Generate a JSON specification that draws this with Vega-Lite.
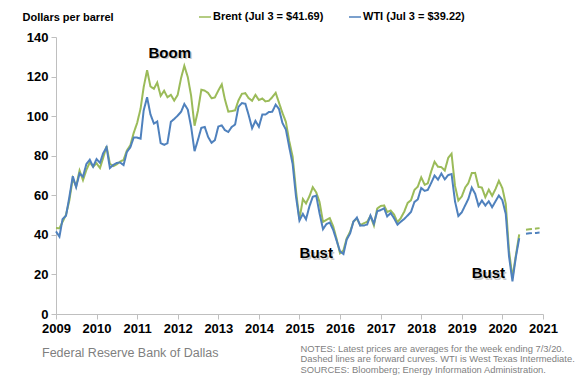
{
  "$schema": "https://vega.github.io/schema/vega-lite/v6.json",
  "width": 487,
  "height": 277,
  "autosize": {"type": "none"},
  "padding": {"left": 56, "top": 37, "right": 41, "bottom": 73},
  "background": "white",
  "config": {"view": {"stroke": null}, "font": "Liberation Sans"},
  "title": {
    "text": "Federal Reserve Bank of Dallas",
    "orient": "bottom",
    "anchor": "start",
    "frame": "group",
    "font": "Liberation Sans",
    "fontSize": 12.5,
    "fontWeight": "normal",
    "color": "#7f7f7f",
    "dx": -14,
    "dy": -30
  },
  "datasets": {
    "prices": [
      {"date": "2009-01-01", "series": "Brent", "kind": "actual", "price": 43.44},
      {"date": "2009-02-01", "series": "Brent", "kind": "actual", "price": 43.32},
      {"date": "2009-03-01", "series": "Brent", "kind": "actual", "price": 46.54},
      {"date": "2009-04-01", "series": "Brent", "kind": "actual", "price": 50.18},
      {"date": "2009-05-01", "series": "Brent", "kind": "actual", "price": 57.30},
      {"date": "2009-06-01", "series": "Brent", "kind": "actual", "price": 68.61},
      {"date": "2009-07-01", "series": "Brent", "kind": "actual", "price": 64.44},
      {"date": "2009-08-01", "series": "Brent", "kind": "actual", "price": 72.51},
      {"date": "2009-09-01", "series": "Brent", "kind": "actual", "price": 67.65},
      {"date": "2009-10-01", "series": "Brent", "kind": "actual", "price": 72.77},
      {"date": "2009-11-01", "series": "Brent", "kind": "actual", "price": 76.66},
      {"date": "2009-12-01", "series": "Brent", "kind": "actual", "price": 74.46},
      {"date": "2010-01-01", "series": "Brent", "kind": "actual", "price": 76.17},
      {"date": "2010-02-01", "series": "Brent", "kind": "actual", "price": 73.75},
      {"date": "2010-03-01", "series": "Brent", "kind": "actual", "price": 78.83},
      {"date": "2010-04-01", "series": "Brent", "kind": "actual", "price": 84.82},
      {"date": "2010-05-01", "series": "Brent", "kind": "actual", "price": 75.95},
      {"date": "2010-06-01", "series": "Brent", "kind": "actual", "price": 74.76},
      {"date": "2010-07-01", "series": "Brent", "kind": "actual", "price": 75.58},
      {"date": "2010-08-01", "series": "Brent", "kind": "actual", "price": 77.04},
      {"date": "2010-09-01", "series": "Brent", "kind": "actual", "price": 77.84},
      {"date": "2010-10-01", "series": "Brent", "kind": "actual", "price": 82.67},
      {"date": "2010-11-01", "series": "Brent", "kind": "actual", "price": 85.28},
      {"date": "2010-12-01", "series": "Brent", "kind": "actual", "price": 91.45},
      {"date": "2011-01-01", "series": "Brent", "kind": "actual", "price": 96.52},
      {"date": "2011-02-01", "series": "Brent", "kind": "actual", "price": 103.72},
      {"date": "2011-03-01", "series": "Brent", "kind": "actual", "price": 114.64},
      {"date": "2011-04-01", "series": "Brent", "kind": "actual", "price": 123.26},
      {"date": "2011-05-01", "series": "Brent", "kind": "actual", "price": 114.99},
      {"date": "2011-06-01", "series": "Brent", "kind": "actual", "price": 113.83},
      {"date": "2011-07-01", "series": "Brent", "kind": "actual", "price": 116.97},
      {"date": "2011-08-01", "series": "Brent", "kind": "actual", "price": 110.22},
      {"date": "2011-09-01", "series": "Brent", "kind": "actual", "price": 112.83},
      {"date": "2011-10-01", "series": "Brent", "kind": "actual", "price": 109.55},
      {"date": "2011-11-01", "series": "Brent", "kind": "actual", "price": 110.77},
      {"date": "2011-12-01", "series": "Brent", "kind": "actual", "price": 107.87},
      {"date": "2012-01-01", "series": "Brent", "kind": "actual", "price": 110.69},
      {"date": "2012-02-01", "series": "Brent", "kind": "actual", "price": 119.33},
      {"date": "2012-03-01", "series": "Brent", "kind": "actual", "price": 125.45},
      {"date": "2012-04-01", "series": "Brent", "kind": "actual", "price": 119.75},
      {"date": "2012-05-01", "series": "Brent", "kind": "actual", "price": 110.34},
      {"date": "2012-06-01", "series": "Brent", "kind": "actual", "price": 95.16},
      {"date": "2012-07-01", "series": "Brent", "kind": "actual", "price": 102.62},
      {"date": "2012-08-01", "series": "Brent", "kind": "actual", "price": 113.36},
      {"date": "2012-09-01", "series": "Brent", "kind": "actual", "price": 112.86},
      {"date": "2012-10-01", "series": "Brent", "kind": "actual", "price": 111.71},
      {"date": "2012-11-01", "series": "Brent", "kind": "actual", "price": 109.06},
      {"date": "2012-12-01", "series": "Brent", "kind": "actual", "price": 109.49},
      {"date": "2013-01-01", "series": "Brent", "kind": "actual", "price": 112.96},
      {"date": "2013-02-01", "series": "Brent", "kind": "actual", "price": 116.05},
      {"date": "2013-03-01", "series": "Brent", "kind": "actual", "price": 108.47},
      {"date": "2013-04-01", "series": "Brent", "kind": "actual", "price": 102.25},
      {"date": "2013-05-01", "series": "Brent", "kind": "actual", "price": 102.56},
      {"date": "2013-06-01", "series": "Brent", "kind": "actual", "price": 102.92},
      {"date": "2013-07-01", "series": "Brent", "kind": "actual", "price": 107.93},
      {"date": "2013-08-01", "series": "Brent", "kind": "actual", "price": 111.28},
      {"date": "2013-09-01", "series": "Brent", "kind": "actual", "price": 111.60},
      {"date": "2013-10-01", "series": "Brent", "kind": "actual", "price": 109.08},
      {"date": "2013-11-01", "series": "Brent", "kind": "actual", "price": 107.79},
      {"date": "2013-12-01", "series": "Brent", "kind": "actual", "price": 110.76},
      {"date": "2014-01-01", "series": "Brent", "kind": "actual", "price": 108.12},
      {"date": "2014-02-01", "series": "Brent", "kind": "actual", "price": 108.90},
      {"date": "2014-03-01", "series": "Brent", "kind": "actual", "price": 107.48},
      {"date": "2014-04-01", "series": "Brent", "kind": "actual", "price": 107.76},
      {"date": "2014-05-01", "series": "Brent", "kind": "actual", "price": 109.54},
      {"date": "2014-06-01", "series": "Brent", "kind": "actual", "price": 111.80},
      {"date": "2014-07-01", "series": "Brent", "kind": "actual", "price": 106.77},
      {"date": "2014-08-01", "series": "Brent", "kind": "actual", "price": 101.61},
      {"date": "2014-09-01", "series": "Brent", "kind": "actual", "price": 97.09},
      {"date": "2014-10-01", "series": "Brent", "kind": "actual", "price": 87.43},
      {"date": "2014-11-01", "series": "Brent", "kind": "actual", "price": 79.44},
      {"date": "2014-12-01", "series": "Brent", "kind": "actual", "price": 62.34},
      {"date": "2015-01-01", "series": "Brent", "kind": "actual", "price": 47.76},
      {"date": "2015-02-01", "series": "Brent", "kind": "actual", "price": 58.10},
      {"date": "2015-03-01", "series": "Brent", "kind": "actual", "price": 55.89},
      {"date": "2015-04-01", "series": "Brent", "kind": "actual", "price": 59.52},
      {"date": "2015-05-01", "series": "Brent", "kind": "actual", "price": 64.08},
      {"date": "2015-06-01", "series": "Brent", "kind": "actual", "price": 61.48},
      {"date": "2015-07-01", "series": "Brent", "kind": "actual", "price": 56.56},
      {"date": "2015-08-01", "series": "Brent", "kind": "actual", "price": 46.52},
      {"date": "2015-09-01", "series": "Brent", "kind": "actual", "price": 47.62},
      {"date": "2015-10-01", "series": "Brent", "kind": "actual", "price": 48.43},
      {"date": "2015-11-01", "series": "Brent", "kind": "actual", "price": 44.27},
      {"date": "2015-12-01", "series": "Brent", "kind": "actual", "price": 38.01},
      {"date": "2016-01-01", "series": "Brent", "kind": "actual", "price": 30.70},
      {"date": "2016-02-01", "series": "Brent", "kind": "actual", "price": 32.18},
      {"date": "2016-03-01", "series": "Brent", "kind": "actual", "price": 38.21},
      {"date": "2016-04-01", "series": "Brent", "kind": "actual", "price": 41.58},
      {"date": "2016-05-01", "series": "Brent", "kind": "actual", "price": 46.74},
      {"date": "2016-06-01", "series": "Brent", "kind": "actual", "price": 48.25},
      {"date": "2016-07-01", "series": "Brent", "kind": "actual", "price": 44.95},
      {"date": "2016-08-01", "series": "Brent", "kind": "actual", "price": 45.84},
      {"date": "2016-09-01", "series": "Brent", "kind": "actual", "price": 46.57},
      {"date": "2016-10-01", "series": "Brent", "kind": "actual", "price": 49.52},
      {"date": "2016-11-01", "series": "Brent", "kind": "actual", "price": 44.73},
      {"date": "2016-12-01", "series": "Brent", "kind": "actual", "price": 53.31},
      {"date": "2017-01-01", "series": "Brent", "kind": "actual", "price": 54.58},
      {"date": "2017-02-01", "series": "Brent", "kind": "actual", "price": 54.87},
      {"date": "2017-03-01", "series": "Brent", "kind": "actual", "price": 51.59},
      {"date": "2017-04-01", "series": "Brent", "kind": "actual", "price": 52.31},
      {"date": "2017-05-01", "series": "Brent", "kind": "actual", "price": 50.33},
      {"date": "2017-06-01", "series": "Brent", "kind": "actual", "price": 46.37},
      {"date": "2017-07-01", "series": "Brent", "kind": "actual", "price": 48.48},
      {"date": "2017-08-01", "series": "Brent", "kind": "actual", "price": 51.70},
      {"date": "2017-09-01", "series": "Brent", "kind": "actual", "price": 56.15},
      {"date": "2017-10-01", "series": "Brent", "kind": "actual", "price": 57.51},
      {"date": "2017-11-01", "series": "Brent", "kind": "actual", "price": 62.71},
      {"date": "2017-12-01", "series": "Brent", "kind": "actual", "price": 64.37},
      {"date": "2018-01-01", "series": "Brent", "kind": "actual", "price": 69.08},
      {"date": "2018-02-01", "series": "Brent", "kind": "actual", "price": 65.32},
      {"date": "2018-03-01", "series": "Brent", "kind": "actual", "price": 66.02},
      {"date": "2018-04-01", "series": "Brent", "kind": "actual", "price": 72.11},
      {"date": "2018-05-01", "series": "Brent", "kind": "actual", "price": 76.98},
      {"date": "2018-06-01", "series": "Brent", "kind": "actual", "price": 74.41},
      {"date": "2018-07-01", "series": "Brent", "kind": "actual", "price": 74.25},
      {"date": "2018-08-01", "series": "Brent", "kind": "actual", "price": 72.53},
      {"date": "2018-09-01", "series": "Brent", "kind": "actual", "price": 78.89},
      {"date": "2018-10-01", "series": "Brent", "kind": "actual", "price": 81.03},
      {"date": "2018-11-01", "series": "Brent", "kind": "actual", "price": 64.75},
      {"date": "2018-12-01", "series": "Brent", "kind": "actual", "price": 57.36},
      {"date": "2019-01-01", "series": "Brent", "kind": "actual", "price": 59.41},
      {"date": "2019-02-01", "series": "Brent", "kind": "actual", "price": 63.96},
      {"date": "2019-03-01", "series": "Brent", "kind": "actual", "price": 66.14},
      {"date": "2019-04-01", "series": "Brent", "kind": "actual", "price": 71.23},
      {"date": "2019-05-01", "series": "Brent", "kind": "actual", "price": 71.32},
      {"date": "2019-06-01", "series": "Brent", "kind": "actual", "price": 64.22},
      {"date": "2019-07-01", "series": "Brent", "kind": "actual", "price": 63.92},
      {"date": "2019-08-01", "series": "Brent", "kind": "actual", "price": 59.04},
      {"date": "2019-09-01", "series": "Brent", "kind": "actual", "price": 62.83},
      {"date": "2019-10-01", "series": "Brent", "kind": "actual", "price": 59.71},
      {"date": "2019-11-01", "series": "Brent", "kind": "actual", "price": 63.21},
      {"date": "2019-12-01", "series": "Brent", "kind": "actual", "price": 67.31},
      {"date": "2020-01-01", "series": "Brent", "kind": "actual", "price": 63.65},
      {"date": "2020-02-01", "series": "Brent", "kind": "actual", "price": 55.66},
      {"date": "2020-03-01", "series": "Brent", "kind": "actual", "price": 32.01},
      {"date": "2020-04-01", "series": "Brent", "kind": "actual", "price": 18.38},
      {"date": "2020-05-01", "series": "Brent", "kind": "actual", "price": 29.38},
      {"date": "2020-06-01", "series": "Brent", "kind": "actual", "price": 40.27},
      {"date": "2009-01-01", "series": "WTI", "kind": "actual", "price": 41.74},
      {"date": "2009-02-01", "series": "WTI", "kind": "actual", "price": 39.09},
      {"date": "2009-03-01", "series": "WTI", "kind": "actual", "price": 47.94},
      {"date": "2009-04-01", "series": "WTI", "kind": "actual", "price": 49.65},
      {"date": "2009-05-01", "series": "WTI", "kind": "actual", "price": 59.03},
      {"date": "2009-06-01", "series": "WTI", "kind": "actual", "price": 69.64},
      {"date": "2009-07-01", "series": "WTI", "kind": "actual", "price": 64.15},
      {"date": "2009-08-01", "series": "WTI", "kind": "actual", "price": 71.05},
      {"date": "2009-09-01", "series": "WTI", "kind": "actual", "price": 69.41},
      {"date": "2009-10-01", "series": "WTI", "kind": "actual", "price": 75.72},
      {"date": "2009-11-01", "series": "WTI", "kind": "actual", "price": 77.99},
      {"date": "2009-12-01", "series": "WTI", "kind": "actual", "price": 74.47},
      {"date": "2010-01-01", "series": "WTI", "kind": "actual", "price": 78.33},
      {"date": "2010-02-01", "series": "WTI", "kind": "actual", "price": 76.39},
      {"date": "2010-03-01", "series": "WTI", "kind": "actual", "price": 81.20},
      {"date": "2010-04-01", "series": "WTI", "kind": "actual", "price": 84.29},
      {"date": "2010-05-01", "series": "WTI", "kind": "actual", "price": 73.74},
      {"date": "2010-06-01", "series": "WTI", "kind": "actual", "price": 75.34},
      {"date": "2010-07-01", "series": "WTI", "kind": "actual", "price": 76.32},
      {"date": "2010-08-01", "series": "WTI", "kind": "actual", "price": 76.60},
      {"date": "2010-09-01", "series": "WTI", "kind": "actual", "price": 75.24},
      {"date": "2010-10-01", "series": "WTI", "kind": "actual", "price": 81.89},
      {"date": "2010-11-01", "series": "WTI", "kind": "actual", "price": 84.25},
      {"date": "2010-12-01", "series": "WTI", "kind": "actual", "price": 89.15},
      {"date": "2011-01-01", "series": "WTI", "kind": "actual", "price": 89.17},
      {"date": "2011-02-01", "series": "WTI", "kind": "actual", "price": 88.58},
      {"date": "2011-03-01", "series": "WTI", "kind": "actual", "price": 102.86},
      {"date": "2011-04-01", "series": "WTI", "kind": "actual", "price": 109.53},
      {"date": "2011-05-01", "series": "WTI", "kind": "actual", "price": 100.90},
      {"date": "2011-06-01", "series": "WTI", "kind": "actual", "price": 96.26},
      {"date": "2011-07-01", "series": "WTI", "kind": "actual", "price": 97.30},
      {"date": "2011-08-01", "series": "WTI", "kind": "actual", "price": 86.33},
      {"date": "2011-09-01", "series": "WTI", "kind": "actual", "price": 85.52},
      {"date": "2011-10-01", "series": "WTI", "kind": "actual", "price": 86.32},
      {"date": "2011-11-01", "series": "WTI", "kind": "actual", "price": 97.16},
      {"date": "2011-12-01", "series": "WTI", "kind": "actual", "price": 98.56},
      {"date": "2012-01-01", "series": "WTI", "kind": "actual", "price": 100.27},
      {"date": "2012-02-01", "series": "WTI", "kind": "actual", "price": 102.20},
      {"date": "2012-03-01", "series": "WTI", "kind": "actual", "price": 106.16},
      {"date": "2012-04-01", "series": "WTI", "kind": "actual", "price": 103.32},
      {"date": "2012-05-01", "series": "WTI", "kind": "actual", "price": 94.66},
      {"date": "2012-06-01", "series": "WTI", "kind": "actual", "price": 82.30},
      {"date": "2012-07-01", "series": "WTI", "kind": "actual", "price": 87.90},
      {"date": "2012-08-01", "series": "WTI", "kind": "actual", "price": 94.13},
      {"date": "2012-09-01", "series": "WTI", "kind": "actual", "price": 94.51},
      {"date": "2012-10-01", "series": "WTI", "kind": "actual", "price": 89.49},
      {"date": "2012-11-01", "series": "WTI", "kind": "actual", "price": 86.53},
      {"date": "2012-12-01", "series": "WTI", "kind": "actual", "price": 87.86},
      {"date": "2013-01-01", "series": "WTI", "kind": "actual", "price": 94.76},
      {"date": "2013-02-01", "series": "WTI", "kind": "actual", "price": 95.31},
      {"date": "2013-03-01", "series": "WTI", "kind": "actual", "price": 92.94},
      {"date": "2013-04-01", "series": "WTI", "kind": "actual", "price": 92.02},
      {"date": "2013-05-01", "series": "WTI", "kind": "actual", "price": 94.51},
      {"date": "2013-06-01", "series": "WTI", "kind": "actual", "price": 95.77},
      {"date": "2013-07-01", "series": "WTI", "kind": "actual", "price": 104.67},
      {"date": "2013-08-01", "series": "WTI", "kind": "actual", "price": 106.57},
      {"date": "2013-09-01", "series": "WTI", "kind": "actual", "price": 106.29},
      {"date": "2013-10-01", "series": "WTI", "kind": "actual", "price": 100.54},
      {"date": "2013-11-01", "series": "WTI", "kind": "actual", "price": 93.86},
      {"date": "2013-12-01", "series": "WTI", "kind": "actual", "price": 97.63},
      {"date": "2014-01-01", "series": "WTI", "kind": "actual", "price": 94.62},
      {"date": "2014-02-01", "series": "WTI", "kind": "actual", "price": 100.82},
      {"date": "2014-03-01", "series": "WTI", "kind": "actual", "price": 100.80},
      {"date": "2014-04-01", "series": "WTI", "kind": "actual", "price": 102.07},
      {"date": "2014-05-01", "series": "WTI", "kind": "actual", "price": 102.18},
      {"date": "2014-06-01", "series": "WTI", "kind": "actual", "price": 105.79},
      {"date": "2014-07-01", "series": "WTI", "kind": "actual", "price": 103.59},
      {"date": "2014-08-01", "series": "WTI", "kind": "actual", "price": 96.54},
      {"date": "2014-09-01", "series": "WTI", "kind": "actual", "price": 93.21},
      {"date": "2014-10-01", "series": "WTI", "kind": "actual", "price": 84.40},
      {"date": "2014-11-01", "series": "WTI", "kind": "actual", "price": 75.79},
      {"date": "2014-12-01", "series": "WTI", "kind": "actual", "price": 59.29},
      {"date": "2015-01-01", "series": "WTI", "kind": "actual", "price": 47.22},
      {"date": "2015-02-01", "series": "WTI", "kind": "actual", "price": 50.58},
      {"date": "2015-03-01", "series": "WTI", "kind": "actual", "price": 47.82},
      {"date": "2015-04-01", "series": "WTI", "kind": "actual", "price": 54.45},
      {"date": "2015-05-01", "series": "WTI", "kind": "actual", "price": 59.27},
      {"date": "2015-06-01", "series": "WTI", "kind": "actual", "price": 59.82},
      {"date": "2015-07-01", "series": "WTI", "kind": "actual", "price": 50.90},
      {"date": "2015-08-01", "series": "WTI", "kind": "actual", "price": 42.87},
      {"date": "2015-09-01", "series": "WTI", "kind": "actual", "price": 45.48},
      {"date": "2015-10-01", "series": "WTI", "kind": "actual", "price": 46.22},
      {"date": "2015-11-01", "series": "WTI", "kind": "actual", "price": 42.44},
      {"date": "2015-12-01", "series": "WTI", "kind": "actual", "price": 37.19},
      {"date": "2016-01-01", "series": "WTI", "kind": "actual", "price": 31.68},
      {"date": "2016-02-01", "series": "WTI", "kind": "actual", "price": 30.32},
      {"date": "2016-03-01", "series": "WTI", "kind": "actual", "price": 37.55},
      {"date": "2016-04-01", "series": "WTI", "kind": "actual", "price": 40.75},
      {"date": "2016-05-01", "series": "WTI", "kind": "actual", "price": 46.71},
      {"date": "2016-06-01", "series": "WTI", "kind": "actual", "price": 48.76},
      {"date": "2016-07-01", "series": "WTI", "kind": "actual", "price": 44.65},
      {"date": "2016-08-01", "series": "WTI", "kind": "actual", "price": 44.72},
      {"date": "2016-09-01", "series": "WTI", "kind": "actual", "price": 45.18},
      {"date": "2016-10-01", "series": "WTI", "kind": "actual", "price": 49.78},
      {"date": "2016-11-01", "series": "WTI", "kind": "actual", "price": 45.66},
      {"date": "2016-12-01", "series": "WTI", "kind": "actual", "price": 51.97},
      {"date": "2017-01-01", "series": "WTI", "kind": "actual", "price": 52.50},
      {"date": "2017-02-01", "series": "WTI", "kind": "actual", "price": 53.47},
      {"date": "2017-03-01", "series": "WTI", "kind": "actual", "price": 49.33},
      {"date": "2017-04-01", "series": "WTI", "kind": "actual", "price": 51.06},
      {"date": "2017-05-01", "series": "WTI", "kind": "actual", "price": 48.48},
      {"date": "2017-06-01", "series": "WTI", "kind": "actual", "price": 45.18},
      {"date": "2017-07-01", "series": "WTI", "kind": "actual", "price": 46.63},
      {"date": "2017-08-01", "series": "WTI", "kind": "actual", "price": 48.04},
      {"date": "2017-09-01", "series": "WTI", "kind": "actual", "price": 49.82},
      {"date": "2017-10-01", "series": "WTI", "kind": "actual", "price": 51.58},
      {"date": "2017-11-01", "series": "WTI", "kind": "actual", "price": 56.64},
      {"date": "2017-12-01", "series": "WTI", "kind": "actual", "price": 57.88},
      {"date": "2018-01-01", "series": "WTI", "kind": "actual", "price": 63.70},
      {"date": "2018-02-01", "series": "WTI", "kind": "actual", "price": 62.23},
      {"date": "2018-03-01", "series": "WTI", "kind": "actual", "price": 62.73},
      {"date": "2018-04-01", "series": "WTI", "kind": "actual", "price": 66.25},
      {"date": "2018-05-01", "series": "WTI", "kind": "actual", "price": 69.98},
      {"date": "2018-06-01", "series": "WTI", "kind": "actual", "price": 67.87},
      {"date": "2018-07-01", "series": "WTI", "kind": "actual", "price": 70.98},
      {"date": "2018-08-01", "series": "WTI", "kind": "actual", "price": 68.06},
      {"date": "2018-09-01", "series": "WTI", "kind": "actual", "price": 70.23},
      {"date": "2018-10-01", "series": "WTI", "kind": "actual", "price": 70.75},
      {"date": "2018-11-01", "series": "WTI", "kind": "actual", "price": 56.96},
      {"date": "2018-12-01", "series": "WTI", "kind": "actual", "price": 49.52},
      {"date": "2019-01-01", "series": "WTI", "kind": "actual", "price": 51.38},
      {"date": "2019-02-01", "series": "WTI", "kind": "actual", "price": 54.95},
      {"date": "2019-03-01", "series": "WTI", "kind": "actual", "price": 58.15},
      {"date": "2019-04-01", "series": "WTI", "kind": "actual", "price": 63.86},
      {"date": "2019-05-01", "series": "WTI", "kind": "actual", "price": 60.83},
      {"date": "2019-06-01", "series": "WTI", "kind": "actual", "price": 54.66},
      {"date": "2019-07-01", "series": "WTI", "kind": "actual", "price": 57.35},
      {"date": "2019-08-01", "series": "WTI", "kind": "actual", "price": 54.81},
      {"date": "2019-09-01", "series": "WTI", "kind": "actual", "price": 56.95},
      {"date": "2019-10-01", "series": "WTI", "kind": "actual", "price": 53.96},
      {"date": "2019-11-01", "series": "WTI", "kind": "actual", "price": 57.03},
      {"date": "2019-12-01", "series": "WTI", "kind": "actual", "price": 59.88},
      {"date": "2020-01-01", "series": "WTI", "kind": "actual", "price": 57.52},
      {"date": "2020-02-01", "series": "WTI", "kind": "actual", "price": 50.54},
      {"date": "2020-03-01", "series": "WTI", "kind": "actual", "price": 29.21},
      {"date": "2020-04-01", "series": "WTI", "kind": "actual", "price": 16.55},
      {"date": "2020-05-01", "series": "WTI", "kind": "actual", "price": 28.56},
      {"date": "2020-06-01", "series": "WTI", "kind": "actual", "price": 38.31},
      {"date": "2020-08-01", "series": "Brent", "kind": "forward", "price": 42.6},
      {"date": "2020-09-01", "series": "Brent", "kind": "forward", "price": 42.8},
      {"date": "2020-10-01", "series": "Brent", "kind": "forward", "price": 43.0},
      {"date": "2020-11-01", "series": "Brent", "kind": "forward", "price": 43.2},
      {"date": "2020-12-01", "series": "Brent", "kind": "forward", "price": 43.4},
      {"date": "2020-08-01", "series": "WTI", "kind": "forward", "price": 40.6},
      {"date": "2020-09-01", "series": "WTI", "kind": "forward", "price": 40.8},
      {"date": "2020-10-01", "series": "WTI", "kind": "forward", "price": 40.9},
      {"date": "2020-11-01", "series": "WTI", "kind": "forward", "price": 41.0},
      {"date": "2020-12-01", "series": "WTI", "kind": "forward", "price": 41.2}
    ],
    "labels": [
      {"date": "2011-10-22", "price": 132, "label": "Boom"},
      {"date": "2015-06-01", "price": 30.7, "label": "Bust"},
      {"date": "2019-08-28", "price": 20.6, "label": "Bust"}
    ]
  },
  "encoding": {
    "x": {
      "field": "date",
      "type": "temporal",
      "scale": {"type": "utc", "domain": [{"year": 2009, "month": 1, "date": 1, "utc": true}, {"year": 2021, "month": 1, "date": 1, "utc": true}]},
      "axis": {
        "format": "%Y",
        "tickCount": {"interval": "year", "step": 1},
        "grid": false,
        "domainColor": "#bfbfbf",
        "tickColor": "#bfbfbf",
        "tickSize": 5,
        "labelFont": "Liberation Sans",
        "labelFontSize": 13,
        "labelFontWeight": "bold",
        "labelColor": "#000000",
        "labelPadding": 3,
        "labelOverlap": false,
        "labelFlush": false,
        "title": ["NOTES: Latest prices are averages for the week ending 7/3/20.", "Dashed lines are forward curves. WTI is West Texas Intermediate.", "SOURCES: Bloomberg; Energy Information Administration."],
        "titleX": 244,
        "titleY": 30,
        "titleAlign": "left",
        "titleAnchor": "start",
        "titleBaseline": "top",
        "titleFont": "Liberation Sans",
        "titleFontSize": 9.4,
        "titleFontWeight": "normal",
        "titleColor": "#7f7f7f",
        "titleLineHeight": 10.5
      }
    },
    "y": {
      "field": "price",
      "type": "quantitative",
      "scale": {"domain": [0, 140], "nice": false},
      "axis": {
        "values": [0, 20, 40, 60, 80, 100, 120, 140],
        "tickCount": 8,
        "grid": false,
        "domainColor": "#bfbfbf",
        "tickColor": "#bfbfbf",
        "tickSize": 5,
        "labelFont": "Liberation Sans",
        "labelFontSize": 13,
        "labelFontWeight": "bold",
        "labelColor": "#000000",
        "labelPadding": 3,
        "labelOverlap": false,
        "labelFlush": false,
        "title": "Dollars per barrel",
        "titleAngle": 0,
        "titleX": -34,
        "titleY": -20,
        "titleAlign": "left",
        "titleBaseline": "middle",
        "titleFont": "Liberation Sans",
        "titleFontSize": 11,
        "titleFontWeight": "bold",
        "titleColor": "#000000"
      }
    }
  },
  "layer": [
    {
      "data": {"name": "prices"},
      "mark": {"type": "line", "strokeWidth": 2},
      "encoding": {
        "color": {
          "field": "series",
          "type": "nominal",
          "scale": {"domain": ["Brent", "WTI"], "range": ["#9BBB59", "#4F81BD"]},
          "legend": {
            "orient": "none",
            "legendX": 142,
            "legendY": -27,
            "direction": "horizontal",
            "title": null,
            "symbolType": "stroke",
            "symbolSize": 144,
            "symbolStrokeWidth": 1.5,
            "labelFont": "Liberation Sans",
            "labelFontSize": 11,
            "labelFontWeight": "bold",
            "labelColor": "#000000",
            "labelOffset": 1,
            "columnPadding": 22,
            "labelExpr": "datum.label == 'Brent' ? 'Brent (Jul 3 = $41.69)' : 'WTI (Jul 3 = $39.22)'"
          }
        },
        "strokeDash": {
          "field": "kind",
          "type": "nominal",
          "scale": {"domain": ["actual", "forward"], "range": [[1, 0], [6, 3]]},
          "legend": null
        }
      }
    },
    {
      "data": {"name": "labels"},
      "mark": {"type": "text", "font": "Liberation Sans", "fontSize": 15, "fontWeight": "bold", "color": "#c8c8c8", "dx": 1.5, "dy": 1.5, "align": "center", "baseline": "middle"},
      "encoding": {
        "text": {"field": "label"}
      }
    },
    {
      "data": {"name": "labels"},
      "mark": {"type": "text", "font": "Liberation Sans", "fontSize": 15, "fontWeight": "bold", "color": "#000000", "align": "center", "baseline": "middle"},
      "encoding": {
        "text": {"field": "label"}
      }
    }
  ]
}
